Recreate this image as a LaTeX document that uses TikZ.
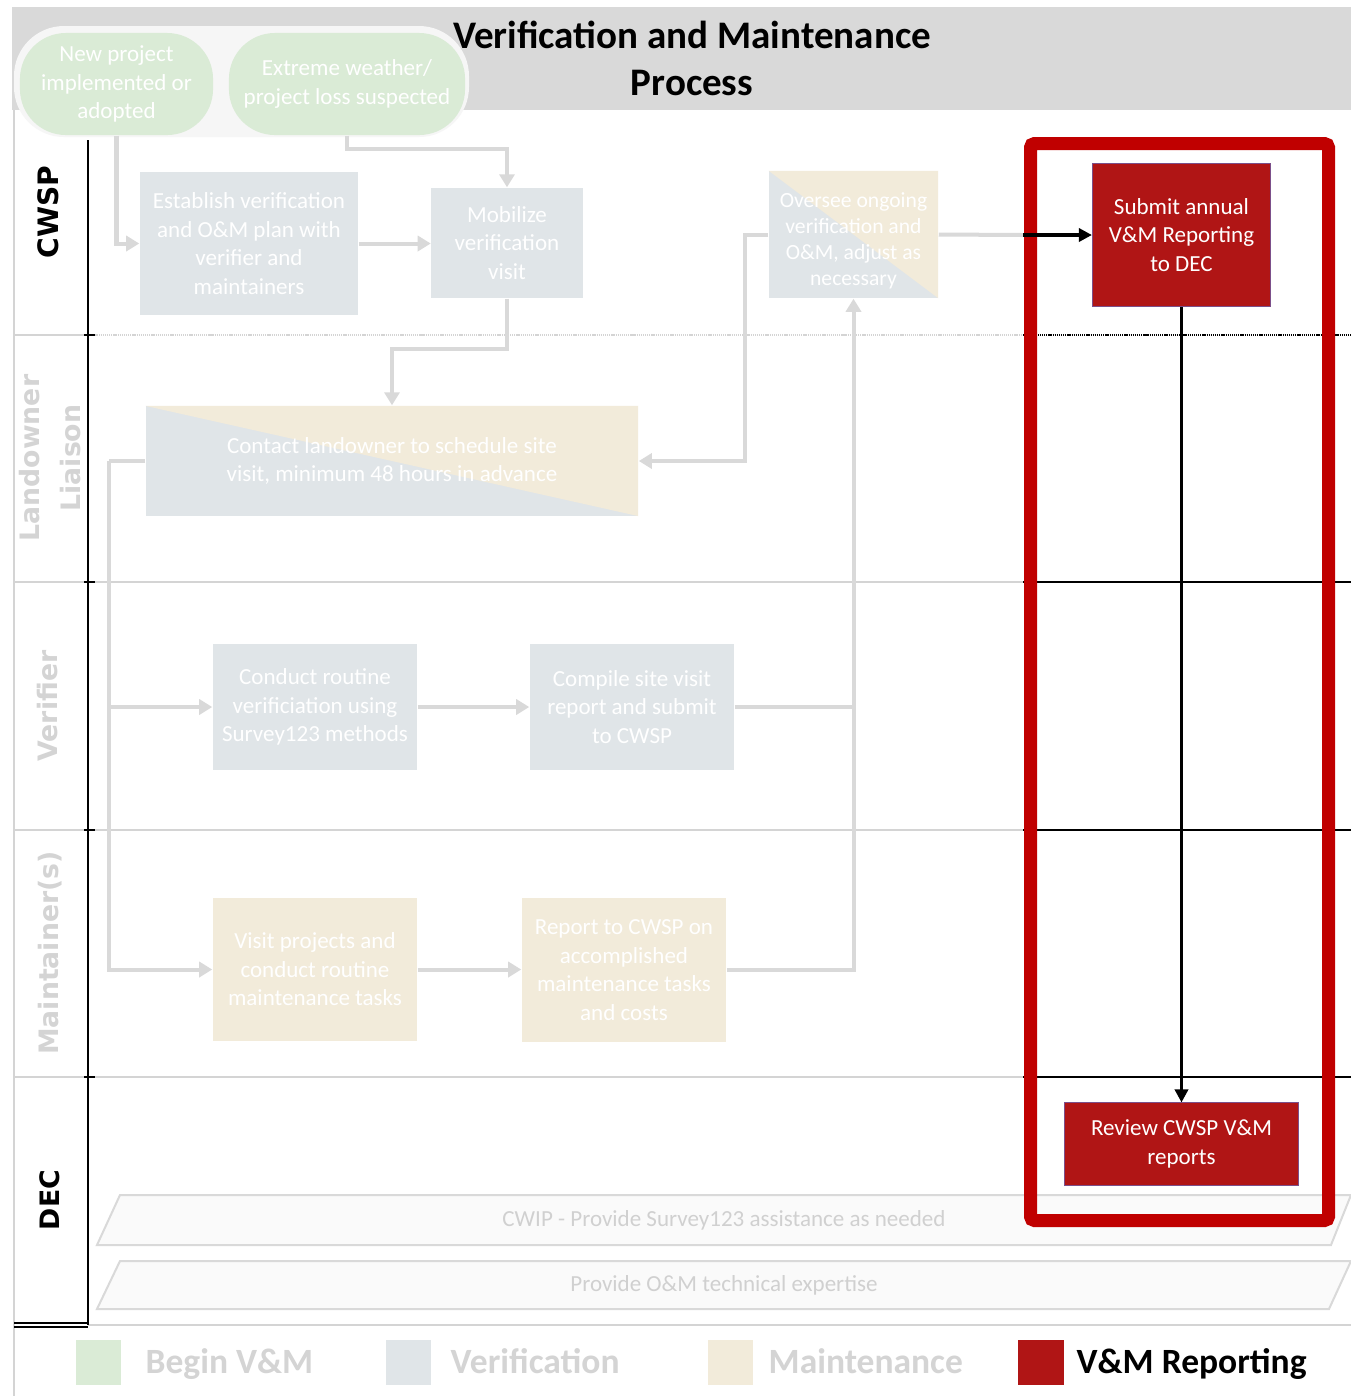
\documentclass[tikz,border=0pt]{standalone}
\usepackage{fontspec}
\setmainfont{Carlito}
\newfontfamily\lanefont{DejaVu Sans}
\usetikzlibrary{arrows.meta,calc}
\definecolor{hdrgray}{HTML}{D9D9D9}
\definecolor{backw}{HTML}{F6F6F6}
\definecolor{bgreen}{HTML}{DAEBD6}
\definecolor{vgray}{HTML}{E0E5E8}
\definecolor{mbeige}{HTML}{F2EBDA}
\definecolor{vmred}{HTML}{B01515}
\definecolor{redbox}{HTML}{C00000}
\definecolor{vmpurple}{HTML}{7B4F8A}
\definecolor{cgray}{HTML}{D9D9D9}
\definecolor{lanegray}{HTML}{D4D4D4}
\definecolor{ptextgray}{HTML}{D0D0D0}
\definecolor{pfill}{HTML}{FAFAFA}
\newcommand{\vmnodefont}{\fontsize{6.55pt}{8.1pt}\selectfont}
\newcommand{\vmsmallfont}{\fontsize{6.15pt}{7.4pt}\selectfont}
\newcommand{\vmtitlefont}{\fontsize{11.1pt}{13.4pt}\selectfont\bfseries}
\newcommand{\vmlegfont}{\fontsize{10.1pt}{12pt}\selectfont\bfseries}
\newcommand{\vmlanefont}{\fontsize{7.6pt}{11.4pt}\selectfont\lanefont\bfseries}
\begin{document}
\begin{tikzpicture}[x=0.01cm,y=-0.01cm,
  box/.style={rectangle, inner sep=0pt, align=center, text=white, font=\vmnodefont},
  vbox/.style={box, fill=vgray},
  mbox/.style={box, fill=mbeige},
  splitbox/.style={box, fill=vgray, path picture={\fill[mbeige] (path picture bounding box.north west) -- (path picture bounding box.north east) -- (path picture bounding box.south east) -- cycle;}},
  rbox/.style={box, fill=vmred, draw=vmpurple, line width=0.01cm},
  oval/.style={box, fill=bgreen, rounded corners=0.46cm},
  lanelab/.style={rotate=90, font=\vmlanefont, align=center, inner sep=0pt},
  gline/.style={draw=cgray, line width=0.04cm},
  garrow/.style={gline, -{Triangle[length=0.13cm,width=0.15cm]}},
  barrow/.style={draw=black, line width=0.035cm, -{Triangle[length=0.13cm,width=0.13cm]}},
  pstyle/.style={fill=pfill, draw=hdrgray, line width=0.02cm},
  ptext/.style={font=\vmnodefont, text=ptextgray, inner sep=0pt},
  legsq/.style={minimum width=0.45cm, minimum height=0.45cm, inner sep=0pt},
  legtext/.style={font=\vmlegfont, anchor=base west, inner sep=0pt},
  fdot/.style={dash pattern=on 0.35pt off 0.25pt}
]
\useasboundingbox (0,0) rectangle (1351,1396);
\fill[white] (0,0) rectangle (1351,1396);

% header
\fill[hdrgray] (12,7) rectangle (1351,110);
\node[font=\vmtitlefont, align=center, inner sep=0pt] (title) at (692,58) {Verification and Maintenance\\Process};
\fill[backw, rounded corners=0.5cm] (14,26) rectangle (469,137);

% start ovals
\node[oval, minimum width=1.93cm, minimum height=1.02cm] (o1) at (116.5,84) {New project\\implemented or\\adopted};
\node[oval, minimum width=2.36cm, minimum height=1.02cm] (o2) at (347,84) {Extreme weather/\\project loss suspected};

% lanes
\draw[lanegray, line width=0.015cm] (14,110) -- (14,1396);
\draw[lanegray, line width=0.02cm] (14,335) -- (88,335);
\draw[lanegray, fdot, line width=0.02cm] (88,335) -- (1023,335);
\draw[black, fdot, line width=0.012cm] (1023,335) -- (1351,335);
\foreach \yy in {582,830,1077}{
  \draw[lanegray, line width=0.02cm] (14,\yy) -- (1023,\yy);
  \draw[black, line width=0.012cm] (1023,\yy) -- (1351,\yy);
  \draw[black, line width=0.02cm] (84,\yy) -- (95,\yy);
}
\draw[black, line width=0.02cm] (84,335) -- (95,335);
\draw[lanegray, line width=0.02cm] (88,1325) -- (1351,1325);
\draw[black, line width=0.012cm] (14,1323) -- (88,1323);
\draw[black, line width=0.012cm] (14,1327) -- (88,1327);
\draw[black, line width=0.012cm] (88,140) -- (88,1325);

\node[lanelab, text=black, font=\fontsize{8pt}{11.4pt}\selectfont\lanefont\bfseries] (lcwsp) at (48,212) {CWSP};
\node[lanelab, text=lanegray] (lland) at (50,458) {Landowner\\Liaison};
\node[lanelab, text=lanegray] (lver) at (48,706) {Verifier};
\node[lanelab, text=lanegray] (lmnt) at (50,953) {Maintainer(s)};
\node[lanelab, text=black] (ldec) at (50,1200) {DEC};

% DEC parallelograms
\draw[pstyle] (120,1195) -- (1351,1195) -- (1331,1245) -- (97,1245) -- cycle;
\node[ptext] (p1) at (724,1220) {CWIP - Provide Survey123 assistance as needed};
\draw[pstyle] (120,1261) -- (1351,1261) -- (1329,1309) -- (97,1309) -- cycle;
\node[ptext] (p2) at (724,1285) {Provide O\&M technical expertise};

% process nodes
\node[vbox, minimum width=2.18cm, minimum height=1.43cm] (est) at (249,243.5) {Establish verification\\and O\&M plan with\\verifier and\\maintainers};
\node[vbox, minimum width=1.51cm, minimum height=1.10cm] (mob) at (507,243) {Mobilize\\verification\\visit};
\node[splitbox, minimum width=1.69cm, minimum height=1.27cm, font=\vmsmallfont] (ovs) at (853.5,234.5) {\rule{0pt}{7.9pt}Oversee ongoing\\verification and\\O\&M, adjust as\\necessary};
\node[splitbox, minimum width=4.92cm, minimum height=1.10cm] (con) at (392,461) {Contact landowner to schedule site\\visit, minimum 48 hours in advance};
\node[vbox, minimum width=2.04cm, minimum height=1.26cm] (cdt) at (315,707) {Conduct routine\\verificiation using\\Survey123 methods};
\node[vbox, minimum width=2.04cm, minimum height=1.26cm] (cmp) at (632,707) {Compile site visit\\report and submit\\to CWSP};
\node[mbox, minimum width=2.04cm, minimum height=1.43cm] (vis) at (315,969.5) {Visit projects and\\conduct routine\\maintenance tasks};
\node[mbox, minimum width=2.04cm, minimum height=1.44cm] (rep) at (624,970) {Report to CWSP on\\accomplished\\maintenance tasks\\and costs};

% red highlight box
\draw[redbox, line width=0.13cm, rounded corners=0.04cm] (1030.5,143.5) rectangle (1328.5,1220.5);

\node[rbox, minimum width=1.78cm, minimum height=1.43cm] (sub) at (1181.5,235) {Submit annual\\V\&M Reporting\\to DEC};
\node[rbox, minimum width=2.34cm, minimum height=0.82cm] (rev) at (1181.5,1144) {Review CWSP V\&M\\reports};

% connectors
\draw[garrow] (o1.south) |- (est.west);
\draw[garrow] (o2.south) -- ++(0,13) -| (mob.north);
\draw[garrow] (est.east) -- (est.east -| mob.west);
\draw[garrow] (mob.south) -- ++(0,50) -| (con.north);
\draw[garrow] (ovs.west) -- (745,234.5) |- (con.east);
\coordinate (fj) at (109,461);
\draw[gline] (con.west) -- (fj);
\draw[garrow] (fj) |- (cdt.west);
\draw[garrow] (fj) |- (vis.west);
\draw[garrow] (cdt.east) -- (cmp.west);
\draw[garrow] (vis.east) -- (vis.east -| rep.west);
\coordinate (rj) at (853.5,969);
\draw[gline] (cmp.east) -- (cmp.east -| rj);
\draw[garrow] (rep.east) -| (ovs.south);
\coordinate (kj) at (1023,235);
\draw[gline] (ovs.east) -- (kj);
\draw[barrow] (kj) -- (sub.west);
\draw[barrow] (sub.south) -- (rev.north);

% legend
\node[legsq, fill=bgreen] (lg1) at (98.5,1362.5) {};
\node[legtext, text=lanegray] (lt1) at (145,1373) {Begin V\&M};
\node[legsq, fill=vgray] (lg2) at (408.5,1362.5) {};
\node[legtext, text=lanegray] (lt2) at (450,1373) {Verification};
\node[legsq, fill=mbeige] (lg3) at (730.5,1362.5) {};
\node[legtext, text=lanegray] (lt3) at (768,1373) {Maintenance};
\node[legsq, fill=vmred] (lg4) at (1041,1362.5) {};
\node[legtext, text=black] (lt4) at (1076,1373) {V\&M Reporting};
\end{tikzpicture}
\end{document}
